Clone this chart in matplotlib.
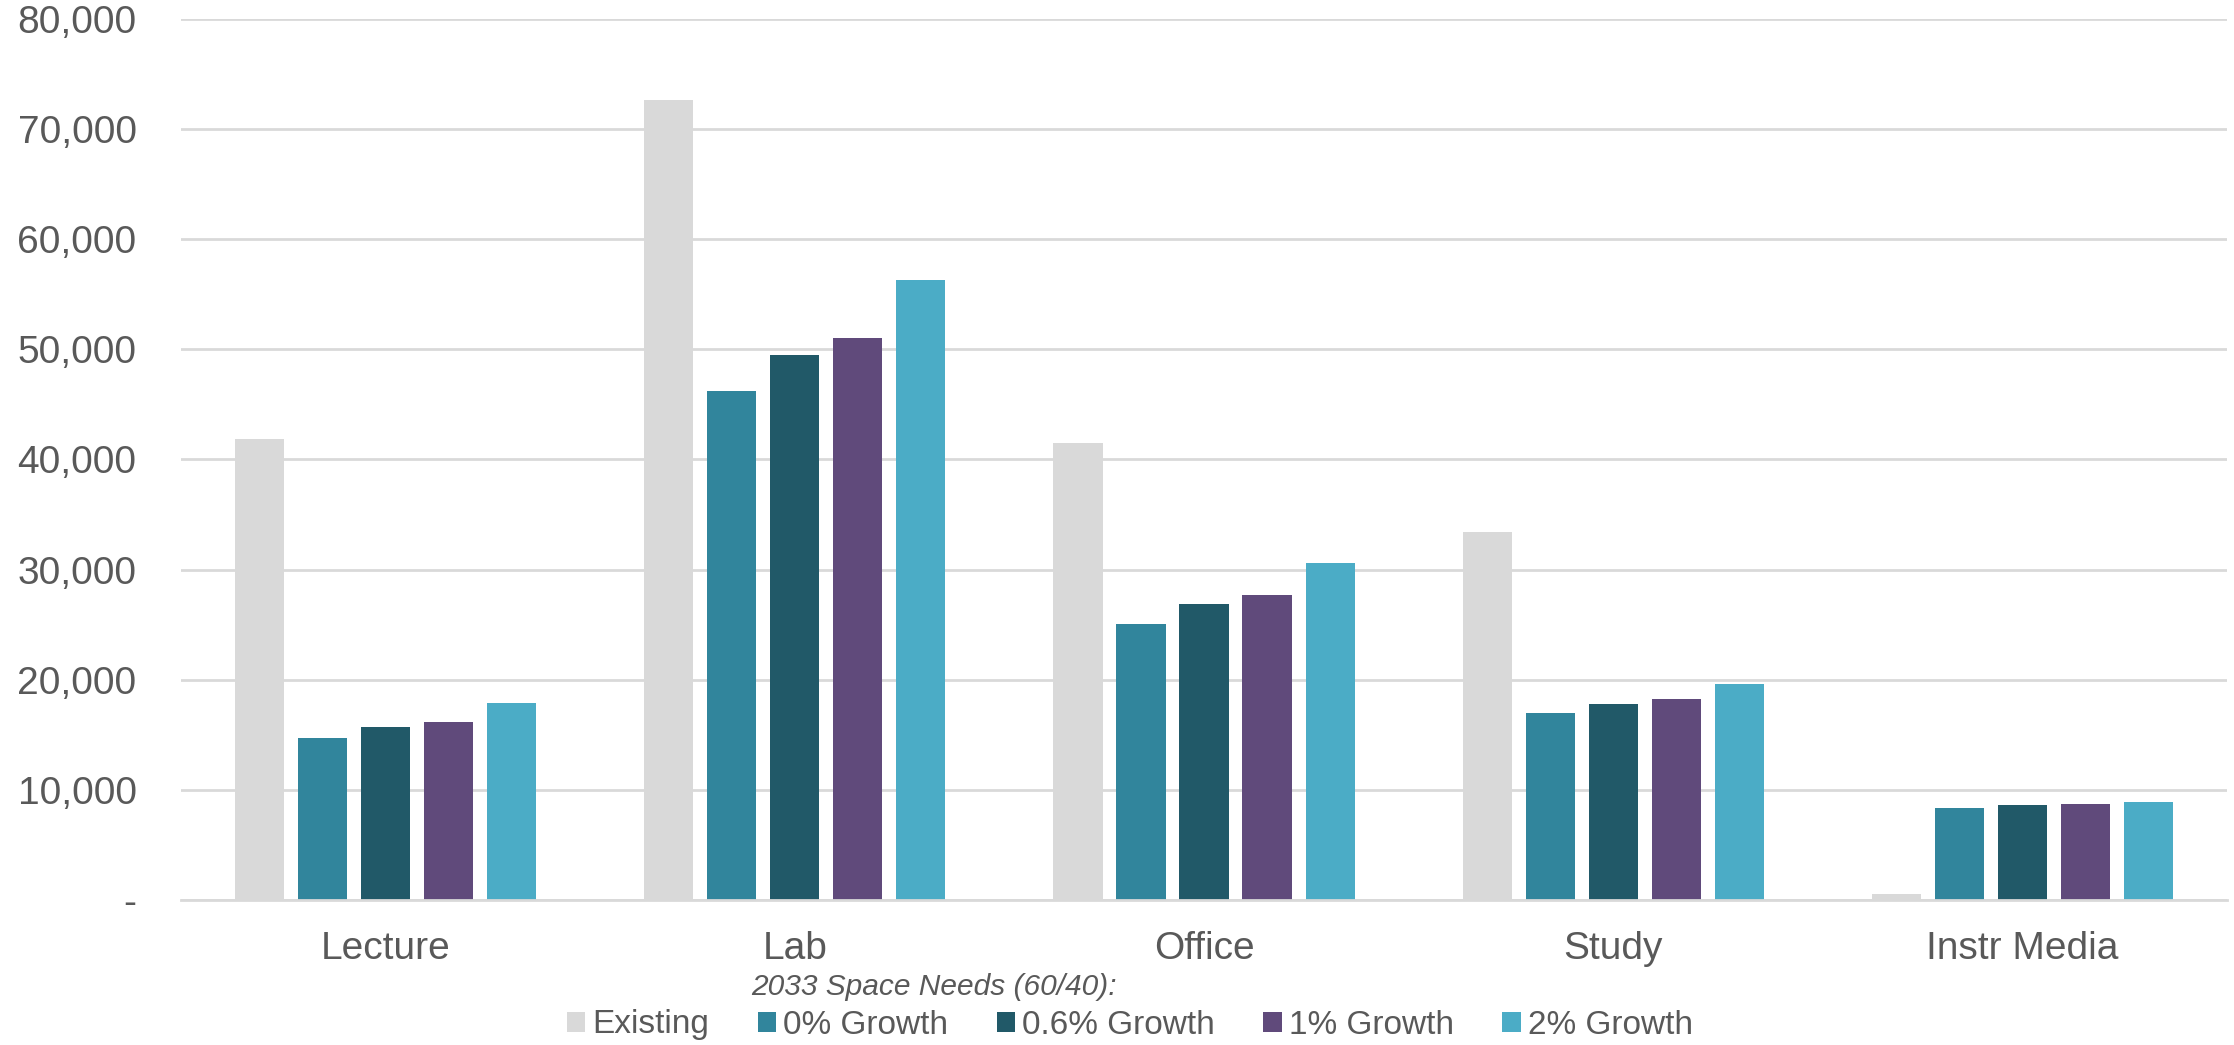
import numpy as np
import matplotlib.pyplot as plt
from matplotlib.ticker import FuncFormatter

plt.rcParams['font.family'] = ['Liberation Sans', 'DejaVu Sans']

categories = ['Lecture', 'Lab', 'Office', 'Study', 'Instr Media']
series = ['Existing', '0% Growth', '0.6% Growth', '1% Growth', '2% Growth']
existing = [41850, 72640, 41490, 33410, 500]
growth_0 = [14680, 46230, 25090, 16990, 8370]
growth_06 = [15720, 49480, 26880, 17830, 8580]
growth_1 = [16200, 51020, 27720, 18260, 8670]
growth_2 = [17890, 56330, 30600, 19620, 8940]
yticks = [0, 10000, 20000, 30000, 40000, 50000, 60000, 70000, 80000]

colors = ['#D9D9D9', '#31859C', '#215968', '#604A7B', '#4BACC6']
txt = '#595959'

fig = plt.figure(figsize=(22.34, 10.45), dpi=100)
ax = fig.add_axes([0.081, 0.1388, 0.9159, 0.843])

x = np.arange(len(categories))
pitch = 0.154
width = 0.12
data = [existing, growth_0, growth_06, growth_1, growth_2]
for i, (vals, c, lab) in enumerate(zip(data, colors, series)):
    ax.bar(x + (i - 2) * pitch, vals, width, color=c, label=lab, zorder=2)

ax.set_xlim(-0.5, len(categories) - 0.5)
ax.set_ylim(0, 80000)
ax.set_yticks(yticks)
ax.yaxis.set_major_formatter(FuncFormatter(lambda v, p: '-' if v == 0 else f'{int(v):,}'))
ax.set_xticks(x)
ax.set_xticklabels(categories)
ax.tick_params(axis='y', length=0, pad=32, labelsize=28, labelcolor=txt)
ax.tick_params(axis='x', length=0, pad=22, labelsize=28, labelcolor=txt)
ax.grid(axis='y', color='#D9D9D9', linewidth=2, zorder=0)
for s in ['top', 'right', 'left']:
    ax.spines[s].set_visible(False)
ax.spines['bottom'].set_color('#D9D9D9')
ax.spines['bottom'].set_linewidth(2)

# legend heading sits apart from the boxes, left edge over the 2nd entry
fig.text(751 / 2234, 1 - 987 / 1045, '2033 Space Needs (60/40):', fontsize=21.5,
         style='italic', color=txt, va='center', ha='left')
fig.legend(loc='center', bbox_to_anchor=(1130 / 2234, 1 - 1025 / 1045), ncol=5,
           frameon=False, fontsize=24, handlelength=0.55, handleheight=0.55,
           handletextpad=0.22, columnspacing=1.45, labelcolor=txt)

fig.savefig('out.png', dpi=100)
